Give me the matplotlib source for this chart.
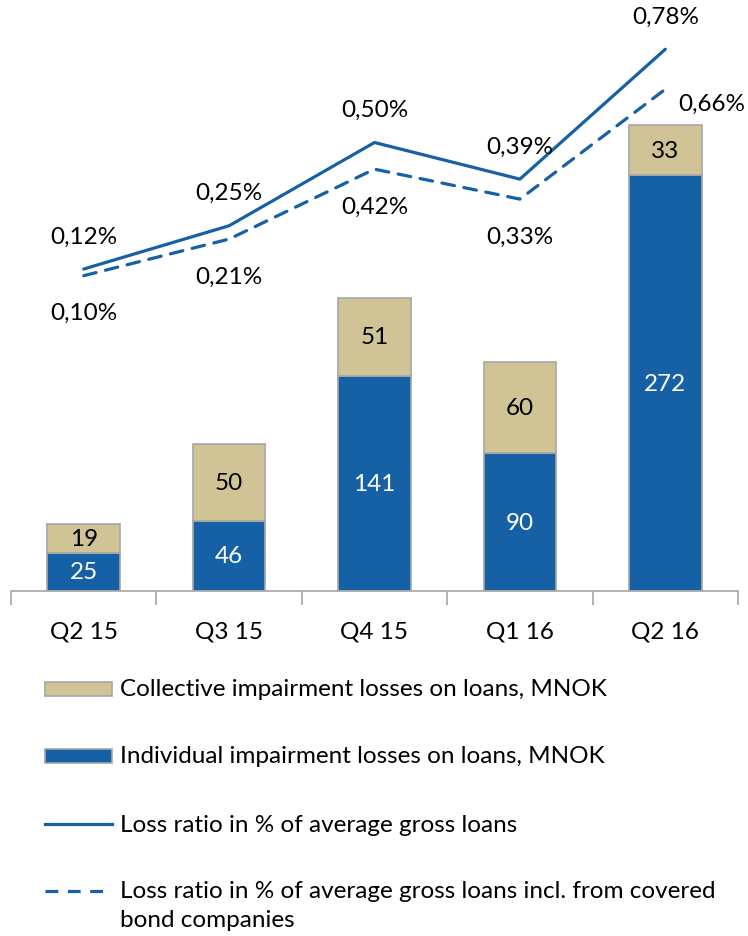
import matplotlib
matplotlib.use("Agg")
import matplotlib.pyplot as plt
from matplotlib.patches import Rectangle
from matplotlib.lines import Line2D

categories = ["Q2 15", "Q3 15", "Q4 15", "Q1 16", "Q2 16"]
individual = [25, 46, 141, 90, 272]
collective = [19, 50, 51, 60, 33]
loss_ratio = [0.12, 0.25, 0.50, 0.39, 0.78]
loss_ratio_cb = [0.10, 0.21, 0.42, 0.33, 0.66]
legend_labels = [
    "Collective impairment losses on loans, MNOK",
    "Individual impairment losses on loans, MNOK",
    "Loss ratio in % of average gross loans",
    "Loss ratio in % of average gross loans incl. from covered\nbond companies",
]

BLUE = "#1660a5"
TAN = "#d0c497"
EDGE = "#a6a6a6"
FONT = ["Lato", "DejaVu Sans"]
plt.rcParams["font.family"] = FONT
FS = 17.5

W, H = 748, 937
DPI = 100
fig = plt.figure(figsize=(W / DPI, H / DPI), dpi=DPI)

def fx(px):
    return px / W

def fy(py):
    return 1 - py / H

ax_left, ax_right, ax_top, ax_bot = 11, 738, 10, 592
ax = fig.add_axes([fx(ax_left), fy(ax_bot), fx(ax_right - ax_left), (ax_bot - ax_top) / H])
x = list(range(len(categories)))
px_per_unit = 1.528
ax.set_ylim(0, (ax_bot - ax_top) / px_per_unit)
ax.set_xlim(-0.5, len(categories) - 0.5)

ax.bar(x, individual, width=0.5, color=BLUE, edgecolor=EDGE, linewidth=1.2, zorder=2)
ax.bar(x, collective, width=0.5, bottom=individual, color=TAN, edgecolor=EDGE, linewidth=1.2, zorder=2)
for i in x:
    ax.text(i, individual[i] / 2, str(individual[i]), ha="center", va="center",
            color="white", fontsize=FS)
    ax.text(i, individual[i] + collective[i] / 2, str(collective[i]), ha="center", va="center",
            color="black", fontsize=FS)

for s in ["top", "left", "right"]:
    ax.spines[s].set_visible(False)
ax.spines["bottom"].set_color(EDGE)
ax.spines["bottom"].set_linewidth(1.2)
ax.set_yticks([])
ax.set_xticks(x)
ax.set_xticklabels(categories, fontsize=FS)
ax.tick_params(axis="x", length=0, pad=21)
ax.set_xticks([i - 0.5 for i in range(len(categories) + 1)], minor=True)
ax.tick_params(axis="x", which="minor", length=10, color=EDGE, width=1.2, direction="out")

# secondary axis
ax2 = ax.twinx()
ppx = 333.0
zero_px = 310.0
ax2.set_ylim((zero_px - ax_bot) / ppx, (zero_px - ax_top) / ppx)
ax2.set_axis_off()
ax2.plot(x, loss_ratio, color=BLUE, lw=2.3, solid_capstyle="round", zorder=3)
ax2.plot(x, loss_ratio_cb, color=BLUE, lw=2.3, dashes=(4, 3), dash_capstyle="round", zorder=3)

for i, v in enumerate(loss_ratio):
    ax2.annotate(f"{v:.2f}%".replace(".", ","), (i, v), xytext=(0, 33),
                 textcoords="offset pixels", ha="center", va="center", fontsize=FS)
for i, v in enumerate(loss_ratio_cb):
    off = (0, -37) if i < len(loss_ratio_cb) - 1 else (46, -14)
    ax2.annotate(f"{v:.2f}%".replace(".", ","), (i, v), xytext=off,
                 textcoords="offset pixels", ha="center", va="center", fontsize=FS)

# legend (manual)
rows = [690, 757, 825, 892]
for k, yy in enumerate(rows):
    if k == 0:
        fig.patches.append(Rectangle((fx(45), fy(yy + 7)), fx(67), 14 / H, transform=fig.transFigure,
                                     facecolor=TAN, edgecolor=EDGE, linewidth=1.2))
    elif k == 1:
        fig.patches.append(Rectangle((fx(45), fy(yy + 7)), fx(67), 14 / H, transform=fig.transFigure,
                                     facecolor=BLUE, edgecolor=EDGE, linewidth=1.2))
    elif k == 2:
        fig.lines.append(Line2D([fx(45), fx(112)], [fy(yy), fy(yy)], transform=fig.transFigure,
                                color=BLUE, lw=2.3))
    else:
        fig.lines.append(Line2D([fx(45), fx(112)], [fy(yy), fy(yy)], transform=fig.transFigure,
                                color=BLUE, lw=2.3, dashes=(4, 3)))
    lines = legend_labels[k].split("\n")
    for j, t in enumerate(lines):
        fig.text(fx(120), fy(yy + 29 * j), t, ha="left", va="center", fontsize=FS)

fig.savefig("out.png", dpi=DPI)
